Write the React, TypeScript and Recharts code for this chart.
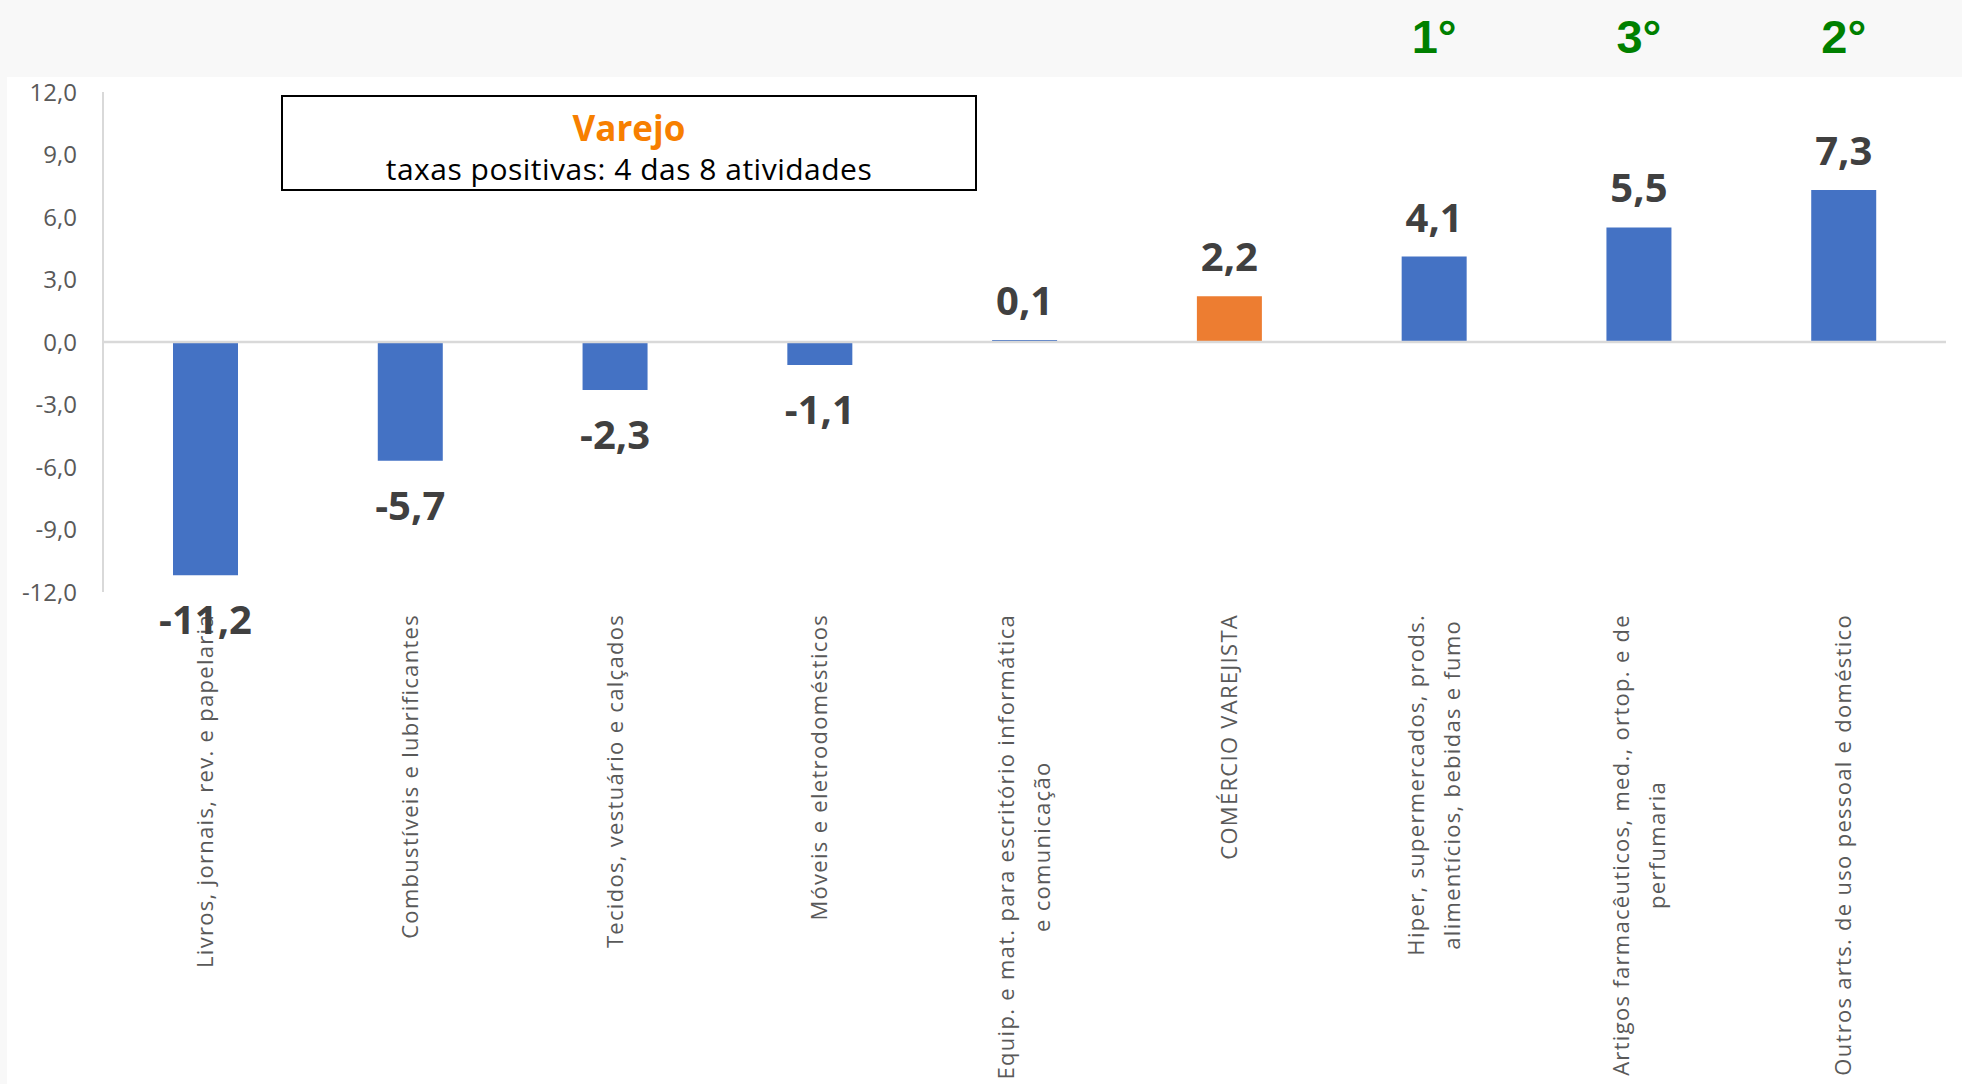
import React from 'react';
import { BarChart, Bar, XAxis, YAxis, Cell, LabelList, ReferenceLine } from 'recharts';

const categories = [
  'Livros, jornais, rev. e papelaria',
  'Combustíveis e lubrificantes',
  'Tecidos, vestuário e calçados',
  'Móveis e eletrodomésticos',
  'Equip. e mat. para escritório informática\ne comunicação',
  'COMÉRCIO VAREJISTA',
  'Hiper, supermercados, prods.\nalimentícios, bebidas e fumo',
  'Artigos farmacêuticos, med., ortop. e de\nperfumaria',
  'Outros arts. de uso pessoal e doméstico',
];
const values = [-11.2, -5.7, -2.3, -1.1, 0.1, 2.2, 4.1, 5.5, 7.3];
const ranks = ['', '', '', '', '', '', '1°', '3°', '2°'];
const yTicks = [-12, -9, -6, -3, 0, 3, 6, 9, 12];
const totalCategory = 'COMÉRCIO VAREJISTA';

const data = categories.map((name, i) => ({ name, value: values[i], rank: ranks[i] }));

const FONT = "'Open Sans', sans-serif";
const TICK_SIZE = 22;
const TICK_SPACING = 1.3;
const fmt = (v: number) => v.toFixed(1).replace('.', ',');

let ctx: CanvasRenderingContext2D | null = null;
const textWidth = (s: string) => {
  if (!ctx) ctx = document.createElement('canvas').getContext('2d');
  if (!ctx) return s.length * TICK_SIZE * 0.55;
  ctx.font = `${TICK_SIZE}px 'Open Sans'`;
  return ctx.measureText(s).width + s.length * TICK_SPACING;
};

// rotated category names, block top-aligned, lines centred on each other
const CategoryTick = (props: any) => {
  const { x, y, payload } = props;
  const lines = String(payload.value).split('\n');
  const span = Math.max(...lines.map(textWidth));
  const top = y + 14;
  return (
    <g transform={`translate(${x},${top + span / 2}) rotate(-90)`}>
      {lines.map((ln, i) => (
        <text
          key={i}
          x={0}
          y={(i - (lines.length - 1) / 2) * 36}
          dy="0.35em"
          textAnchor="middle"
          fill="#595959"
          fontSize={TICK_SIZE}
          letterSpacing={TICK_SPACING}
          fontFamily={FONT}
        >
          {ln}
        </text>
      ))}
    </g>
  );
};

const ValueLabel = (props: any) => {
  const { x, y, width, height, value } = props;
  const top = Math.min(y, y + height);
  const bottom = Math.max(y, y + height);
  const ty = value >= 0 ? top - 25 : bottom + 59;
  return (
    <text x={x + width / 2} y={ty} textAnchor="middle" fontSize={40} fontWeight={700} fill="#404040" fontFamily={FONT}>
      {fmt(value)}
    </text>
  );
};

const RankLabel = (props: any) => {
  const { x, width, value } = props;
  if (!value) return null;
  return (
    <text x={x + width / 2} y={53} textAnchor="middle" fontSize={47} fontWeight={700} fill="#008000" fontFamily="'Liberation Sans', Arial, sans-serif">
      {value}
    </text>
  );
};

export default function App() {
  return (
    <div style={{ position: 'fixed', left: 0, top: 0, width: 1962, height: 1084, background: '#f8f8f8', overflow: 'hidden' }}>
      <div style={{ position: 'absolute', left: 7, top: 77, right: 0, bottom: 0, background: '#ffffff' }} />
      <div style={{ position: 'absolute', left: 0, top: 0 }}>
        <BarChart width={1962} height={1084} data={data} margin={{ top: 92, right: 16, bottom: 0, left: 0 }}>
          <YAxis
            type="number"
            domain={[-12, 12]}
            ticks={yTicks}
            tickFormatter={fmt}
            width={103}
            tickLine={false}
            tickSize={0}
            tickMargin={26}
            axisLine={{ stroke: '#d9d9d9', strokeWidth: 2 }}
            tick={{ fill: '#595959', fontSize: 24, fontFamily: FONT }}
            allowDataOverflow
          />
          <XAxis
            dataKey="name"
            interval={0}
            height={492}
            axisLine={false}
            tickLine={false}
            tick={<CategoryTick />}
          />
          <ReferenceLine y={0} stroke="#d9d9d9" strokeWidth={2.5} />
          <Bar dataKey="value" barSize={65} isAnimationActive={false}>
            {data.map((d) => (
              <Cell key={d.name} fill={d.name === totalCategory ? '#ED7D31' : '#4472C4'} />
            ))}
            <LabelList dataKey="value" content={<ValueLabel />} />
            <LabelList dataKey="rank" content={<RankLabel />} />
          </Bar>
        </BarChart>
      </div>
      <div
        style={{
          position: 'absolute',
          left: 281,
          top: 95,
          width: 696,
          height: 96,
          boxSizing: 'border-box',
          border: '2px solid #000',
          background: '#fff',
          fontFamily: FONT,
        }}
      >
        <div style={{ position: 'absolute', left: 0, right: 0, top: 11, lineHeight: '40px', textAlign: 'center', color: '#F77F00', fontSize: 35, fontWeight: 700 }}>
          Varejo
        </div>
        <div style={{ position: 'absolute', left: 0, right: 0, top: 54, lineHeight: '36px', textAlign: 'center', color: '#000', fontSize: 30, letterSpacing: 0.5 }}>
          taxas positivas: 4 das 8 atividades
        </div>
      </div>
    </div>
  );
}
